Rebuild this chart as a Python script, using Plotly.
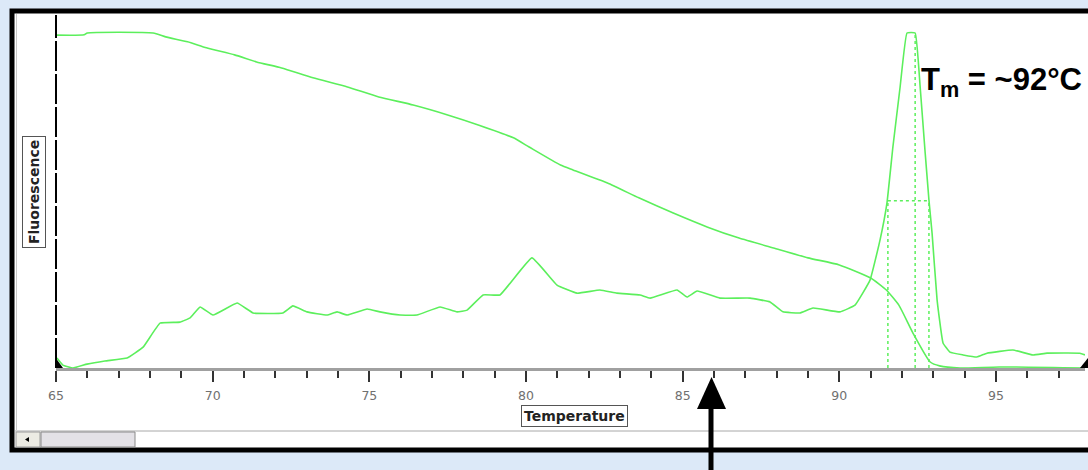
import plotly.graph_objects as go

# ---------------- data ----------------
# melt curve (raw fluorescence vs temperature)
temp_melt = [65.0, 65.9, 66.0, 68.1, 68.5, 69.2, 69.8, 70.7, 71.4, 72.2, 73.2, 74.3, 75.3,
             76.4, 77.5, 78.5, 79.6, 80.1, 81.1, 81.5, 82.6, 83.6, 84.7, 85.8, 86.8, 87.9,
             89.0, 90.0, 91.0, 91.5, 91.9, 92.35, 92.9, 93.2, 93.85, 95.1, 97.84]
fluor_melt = [94.3, 94.4, 94.9, 94.9, 93.8, 92.4, 90.7, 88.7, 86.7, 85.0, 82.2, 79.6, 76.8,
              74.5, 71.7, 68.8, 65.2, 62.6, 57.5, 56.1, 52.4, 48.2, 43.9, 39.9, 36.8, 34.0,
              31.2, 29.2, 25.5, 22.1, 17.8, 9.9, 1.7, 0.6, 0.0, 0.3, 0.0]

# derivative curve (-dF/dT)
temp_deriv = [65.03, 65.22, 65.54, 65.99, 66.56, 67.27, 67.78, 68.32, 68.96, 69.28, 69.60,
              70.01, 70.78, 71.29, 72.24, 72.56, 73.01, 73.65, 73.97, 74.29, 74.93, 75.34,
              75.98, 76.52, 77.26, 77.80, 78.12, 78.63, 79.17, 80.19, 80.99, 81.63, 82.36,
              82.90, 83.64, 83.96, 84.82, 85.14, 85.46, 86.19, 87.15, 87.79, 88.20, 88.74,
              89.16, 90.02, 90.50, 90.98, 91.30, 91.52, 91.71, 91.94, 92.16, 92.42, 92.58,
              92.74, 92.86, 92.96, 93.12, 93.31, 93.53, 93.95, 94.39, 94.71, 95.54, 96.18,
              96.63, 97.68, 97.84]
deriv = [2.8, 0.8, 0.0, 1.1, 2.0, 2.8, 5.9, 12.7, 13.0, 14.2, 17.3,
         15.0, 18.4, 15.6, 15.6, 17.6, 15.9, 15.0, 15.9, 15.0, 16.7, 15.9,
         15.0, 15.0, 17.3, 15.9, 16.4, 20.7, 20.7, 31.2, 23.5, 21.2, 22.1,
         21.2, 20.7, 19.8, 22.1, 20.1, 21.8, 19.8, 19.8, 18.7, 15.9, 15.6,
         17.0, 15.9, 17.8, 24.9, 36.3, 46.7, 62.6, 79.6, 94.9, 94.9, 79.6,
         60.9, 47.6, 38.2, 19.3, 7.1, 4.5, 3.7, 3.1, 4.2, 5.1, 3.7,
         4.2, 4.2, 3.7]

tm_temp = 92.42
fwhm_temps = [91.55, 92.86]
peak_height = 94.9
half_height = 47.4

tick_vals = [65, 70, 75, 80, 85, 90, 95]
tick_text = ["65", "70", "75", "80", "85", "90", "95"]

# ---------------- layout helpers ----------------
W, H = 1088, 470
L, R, T, B = 56, 3, 15, 102
PW, PH = W - L - R, H - T - B


def px(x):
    return (x - L) / PW


def py(y):
    return (H - B - y) / PH


GREEN = "#5cef5c"

fig = go.Figure()
fig.add_trace(go.Scatter(x=temp_melt, y=fluor_melt, mode="lines",
                         line=dict(color=GREEN, width=1.6, shape="spline", smoothing=0.5),
                         hoverinfo="skip"))
fig.add_trace(go.Scatter(x=temp_deriv, y=deriv, mode="lines",
                         line=dict(color=GREEN, width=1.6, shape="spline", smoothing=0.3),
                         hoverinfo="skip"))
dx = [fwhm_temps[0], fwhm_temps[0], None, fwhm_temps[1], fwhm_temps[1], None,
      fwhm_temps[0], fwhm_temps[1], None, tm_temp, tm_temp]
dy = [0, half_height, None, 0, half_height, None,
      half_height, half_height, None, 0, peak_height]
fig.add_trace(go.Scatter(x=dx, y=dy, mode="lines",
                         line=dict(color=GREEN, width=1.5, dash="dot"), hoverinfo="skip"))

shapes = []
# white window with thick black frame
shapes.append(dict(type="rect", xref="paper", yref="paper",
                   x0=px(12), x1=px(1100), y0=py(450), y1=py(11),
                   line=dict(color="black", width=5), fillcolor="white", layer="below"))
# thin window left border
shapes.append(dict(type="line", xref="paper", yref="paper",
                   x0=px(16.5), x1=px(16.5), y0=py(430), y1=py(14),
                   line=dict(color="#c8c8c8", width=1)))
# dashed y axis
shapes.append(dict(type="line", xref="paper", yref="paper",
                   x0=px(56), x1=px(56), y0=py(368), y1=py(15),
                   line=dict(color="black", width=2, dash="30px,3px")))
# small black corner marks
shapes.append(dict(type="path", xref="paper", yref="paper",
                   path=f"M {px(55)} {py(357)} L {px(55)} {py(368)} L {px(63)} {py(368)} Z",
                   fillcolor="black", line=dict(width=0)))
shapes.append(dict(type="path", xref="paper", yref="paper",
                   path=f"M {px(1088)} {py(358)} L {px(1088)} {py(368)} L {px(1080)} {py(368)} Z",
                   fillcolor="black", line=dict(width=0)))
# scrollbar
shapes.append(dict(type="line", xref="paper", yref="paper",
                   x0=px(15), x1=px(1090), y0=py(431), y1=py(431),
                   line=dict(color="#a8a8a8", width=1)))
shapes.append(dict(type="rect", xref="paper", yref="paper",
                   x0=px(16), x1=px(40), y0=py(447), y1=py(432),
                   fillcolor="#ecebe4", line=dict(color="#9a9a9a", width=1)))
shapes.append(dict(type="path", xref="paper", yref="paper",
                   path=f"M {px(25)} {py(439.5)} L {px(29)} {py(437)} L {px(29)} {py(442)} Z",
                   fillcolor="black", line=dict(width=0)))
shapes.append(dict(type="rect", xref="paper", yref="paper",
                   x0=px(41), x1=px(135), y0=py(447), y1=py(432),
                   fillcolor="#e3e1e6", line=dict(color="#8a8a8a", width=1)))
# black arrow
shapes.append(dict(type="line", xref="paper", yref="paper",
                   x0=px(711), x1=px(711), y0=py(472), y1=py(405),
                   line=dict(color="black", width=5)))
shapes.append(dict(type="path", xref="paper", yref="paper",
                   path=f"M {px(697)} {py(409)} L {px(726)} {py(409)} L {px(711.5)} {py(377)} Z",
                   fillcolor="black", line=dict(width=0)))

annotations = [
    dict(x=px(919), y=py(60), xref="paper", yref="paper", xanchor="left", yanchor="top",
         text="<b>T<sub>m</sub> = ~92°C</b>", showarrow=False,
         font=dict(family="Liberation Sans, Arial, sans-serif", size=31, color="black")),
    dict(x=px(34.5), y=py(192.5), xref="paper", yref="paper", xanchor="center", yanchor="middle",
         text="<b>Fluorescence</b>", textangle=-90, showarrow=False,
         bordercolor="#555555", borderwidth=1, borderpad=3, bgcolor="white",
         font=dict(family="DejaVu Sans, sans-serif", size=14, color="#222222")),
    dict(x=px(574.5), y=py(415.5), xref="paper", yref="paper", xanchor="center", yanchor="middle",
         text="<b>Temperature</b>", showarrow=False,
         bordercolor="#555555", borderwidth=1, borderpad=2, bgcolor="white",
         font=dict(family="DejaVu Sans, sans-serif", size=14, color="#222222")),
]

fig.update_layout(
    width=W, height=H,
    margin=dict(l=L, r=R, t=T, b=B, pad=0),
    paper_bgcolor="#dce9f8",
    plot_bgcolor="white",
    showlegend=False,
    shapes=shapes,
    annotations=annotations,
    xaxis=dict(range=[65, 65 + PW / 31.333], tickvals=tick_vals, ticktext=tick_text,
               ticks="outside", ticklen=11, tickwidth=1.5, tickcolor="#333333",
               showline=True, linecolor="#a0a0a0", linewidth=2.5,
               showgrid=False, zeroline=False, ticklabelstandoff=3,
               tickfont=dict(family="DejaVu Sans, sans-serif", size=12.5, color="#707070"),
               minor=dict(dtick=1, ticks="outside", ticklen=7, tickwidth=1.5,
                          tickcolor="#333333", showgrid=False)),
    yaxis=dict(range=[0, 100], visible=False, showgrid=False, zeroline=False),
)

fig.write_html("out.html")
